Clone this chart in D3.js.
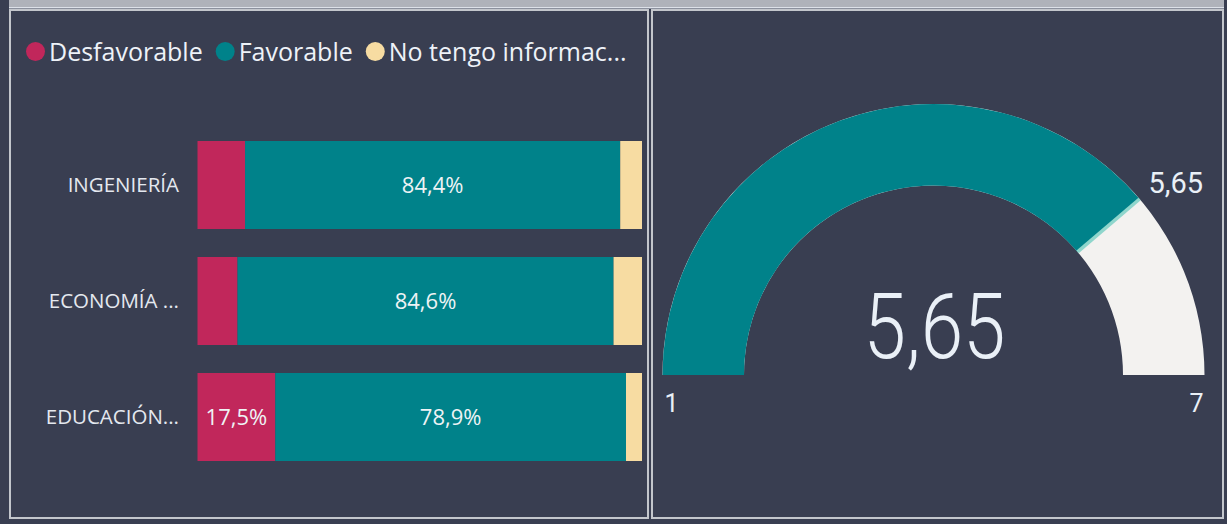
<!DOCTYPE html>
<meta charset="utf-8">
<style>
  body {
    margin: 0;
    background: #393e51;
  }
  svg {
    display: block;
  }
  .legend text {
    fill: #eef2f8;
    font-family: "Segoe UI", "Open Sans", sans-serif;
    font-size: 25px;
  }
  .cat text {
    fill: #e4e8ef;
    font-family: "Segoe UI", "Open Sans", sans-serif;
    font-size: 20.5px;
  }
  .seglabel {
    fill: #eef3f5;
    font-family: "Segoe UI", "Open Sans", sans-serif;
    font-size: 22px;
  }
  .gauge text {
    fill: #eaf0f7;
    font-family: Roboto, sans-serif;
  }
</style>
<body>
<script src="https://d3js.org/d3.v7.min.js"></script>
<script>
var categories = ["INGENIERÍA", "ECONOMÍA ...", "EDUCACIÓN..."];
var seriesNames = ["Desfavorable", "Favorable", "No tengo informac..."];
var desfavorable = [10.7, 9.0, 17.5];
var favorable = [84.4, 84.6, 78.9];
var noInfo = [4.9, 6.4, 3.6];
var seriesColors = ["#c1275b", "#00828a", "#f7dca2"];

var gaugeMin = 1,
    gaugeMax = 7,
    gaugeValue = 5.65,
    gaugeTarget = 5.65;

var W = 1227, H = 524;

var locale = d3.formatLocale({ decimal: ",", thousands: ".", grouping: [3], currency: ["", "€"] });
var pct = locale.format(".1f");
var num = locale.format(".2f");

var svg = d3.select("body").append("svg")
    .attr("width", W)
    .attr("height", H);

// frame: top strip and the two panels
svg.append("rect").attr("x", 9).attr("y", 0).attr("width", 1215).attr("height", 7).attr("fill", "#afb2ba");
svg.append("rect").attr("x", 9).attr("y", 7).attr("width", 1215).attr("height", 1.5).attr("fill", "#dde1e9");
[[10, 10, 638, 508], [652, 10, 571, 508]].forEach(function(p) {
  svg.append("rect")
    .attr("x", p[0]).attr("y", p[1])
    .attr("width", p[2]).attr("height", p[3])
    .attr("fill", "none")
    .attr("stroke", "#c3c6cc")
    .attr("stroke-width", 2);
});

// ---- stacked bar panel ----
var rows = categories.map(function(c, i) {
  return { cat: c, Desfavorable: desfavorable[i], Favorable: favorable[i], "No tengo informac...": noInfo[i] };
});

var stack = d3.stack().keys(seriesNames).offset(d3.stackOffsetExpand);
var layers = stack(rows);

var x = d3.scaleLinear().domain([0, 1]).range([197.5, 642]);
var y = d3.scaleBand().domain(categories).range([141, 461]).paddingInner(28 / 116).paddingOuter(0);
var color = d3.scaleOrdinal().domain(seriesNames).range(seriesColors);

var layer = svg.selectAll("g.layer")
  .data(layers)
  .enter().append("g")
    .attr("class", "layer")
    .attr("fill", function(d) { return color(d.key); });

layer.selectAll("rect")
  .data(function(d) { return d; })
  .enter().append("rect")
    .attr("x", function(d) { return x(d[0]); })
    .attr("y", function(d) { return y(d.data.cat); })
    .attr("width", function(d) { return x(d[1]) - x(d[0]); })
    .attr("height", y.bandwidth());

// data labels, only where they fit
layer.each(function(l) {
  d3.select(this).selectAll("text")
    .data(l.map(function(d) { return { d: d, key: l.key }; }))
    .enter().append("text")
      .attr("class", "seglabel")
      .attr("text-anchor", "middle")
      .attr("dy", "0.35em")
      .attr("x", function(o) { return (x(o.d[0]) + x(o.d[1])) / 2; })
      .attr("y", function(o) { return y(o.d.data.cat) + y.bandwidth() / 2; })
      .text(function(o) { return pct(o.d.data[o.key]) + "%"; })
      .each(function(o) {
        var w = x(o.d[1]) - x(o.d[0]);
        if (this.getComputedTextLength() + 8 > w) d3.select(this).remove();
      });
});

var yAxis = svg.append("g")
    .attr("class", "cat")
    .attr("transform", "translate(179,0)")
    .call(d3.axisLeft(y).tickSize(0).tickPadding(0));
yAxis.select(".domain").remove();
yAxis.selectAll("text").attr("font-family", null).attr("font-size", null).attr("fill", null);

// legend
var legend = svg.append("g").attr("class", "legend");
var lx = 26;
seriesNames.forEach(function(s, i) {
  legend.append("circle")
    .attr("cx", lx + 9.5)
    .attr("cy", 51.5)
    .attr("r", 9.5)
    .attr("fill", color(s));
  var t = legend.append("text")
    .attr("x", lx + 23)
    .attr("y", 52)
    .attr("dy", "0.35em")
    .text(s);
  lx += 23 + t.node().getComputedTextLength() + 13;
});

// ---- gauge panel ----
var cx = 933.5, cy = 375, rIn = 189.5, rOut = 271;
var angle = d3.scaleLinear().domain([gaugeMin, gaugeMax]).range([-Math.PI / 2, Math.PI / 2]);

var gauge = svg.append("g")
    .attr("class", "gauge")
    .attr("transform", "translate(" + cx + "," + cy + ")");

var arc = d3.arc().innerRadius(rIn).outerRadius(rOut);

gauge.append("path")
  .attr("d", arc({ startAngle: angle(gaugeMin), endAngle: angle(gaugeMax) }))
  .attr("fill", "#f3f2f0");

gauge.append("path")
  .attr("d", arc({ startAngle: angle(gaugeMin), endAngle: angle(gaugeValue) }))
  .attr("fill", "#00828a");

var ta = angle(gaugeTarget);
gauge.append("line")
  .attr("x1", rIn * Math.sin(ta)).attr("y1", -rIn * Math.cos(ta))
  .attr("x2", rOut * Math.sin(ta)).attr("y2", -rOut * Math.cos(ta))
  .attr("stroke", "#8fd6cc")
  .attr("stroke-width", 3.5);

gauge.append("text")
  .attr("x", rOut * Math.sin(ta) + 9)
  .attr("y", -rOut * Math.cos(ta) - 6)
  .attr("font-size", "29px")
  .text(num(gaugeTarget));

gauge.append("text")
  .attr("x", -rOut + 2)
  .attr("y", 36.5)
  .attr("font-size", "25px")
  .text(gaugeMin);

gauge.append("text")
  .attr("x", rOut - 1)
  .attr("y", 36.5)
  .attr("text-anchor", "end")
  .attr("font-size", "25px")
  .text(gaugeMax);

// DIN-like callout: Roboto light squeezed horizontally
gauge.append("text")
  .attr("transform", "translate(1,-17) scale(0.85,1)")
  .attr("text-anchor", "middle")
  .attr("font-size", "90px")
  .attr("font-weight", 300)
  .text(num(gaugeValue));
</script>
